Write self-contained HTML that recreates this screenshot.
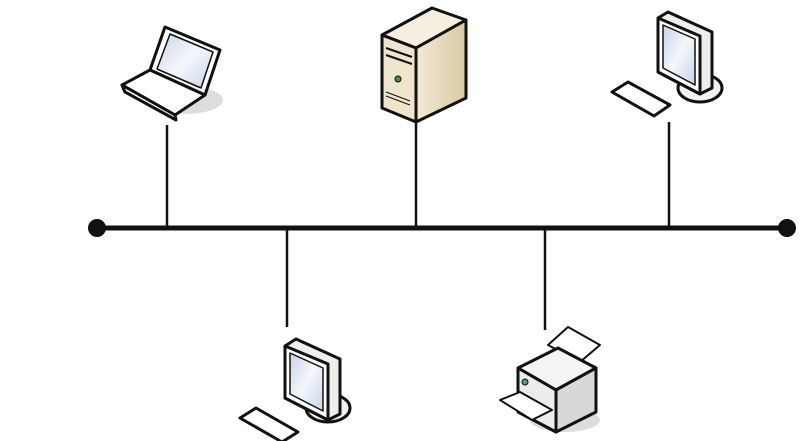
<!DOCTYPE html>
<html><head><meta charset="utf-8"><style>
html,body{margin:0;padding:0;background:#fff;width:800px;height:441px;overflow:hidden}
</style></head><body>
<svg width="800" height="441" viewBox="0 0 800 441" xmlns="http://www.w3.org/2000/svg">
<defs>
<linearGradient id="scr" x1="0" y1="0" x2="1" y2="1"><stop offset="0" stop-color="#c8d4ea"/><stop offset="0.5" stop-color="#f4f6fb"/><stop offset="1" stop-color="#c8d4ea"/></linearGradient>
<linearGradient id="beige" x1="0" y1="0" x2="1" y2="0"><stop offset="0" stop-color="#f3ead6"/><stop offset="1" stop-color="#d9c9a4"/></linearGradient>
</defs>
<g stroke="#111" stroke-width="2.5">
<line x1="167" y1="125" x2="167" y2="228"/>
<line x1="416" y1="122" x2="416" y2="228"/>
<line x1="669" y1="122" x2="669" y2="228"/>
<line x1="287" y1="228" x2="287" y2="327"/>
<line x1="545" y1="228" x2="545" y2="330"/>
</g>
<line x1="97" y1="228" x2="787" y2="228" stroke="#111" stroke-width="5"/>
<circle cx="97" cy="228" r="9" fill="#111"/>
<circle cx="787" cy="228" r="9" fill="#111"/>

<!-- laptop -->
<g stroke="#111" stroke-width="3" stroke-linejoin="round">
<ellipse cx="185" cy="100" rx="38" ry="14" fill="#ddd" stroke="none"/>
<polygon points="165,27 220,50 205,95 150,70" fill="#fff"/>
<polygon points="170,34 213,52 201,88 157,69" fill="url(#scr)" stroke-width="1.5"/>
<polygon points="150,70 205,95 175,115 122,85" fill="#fff"/>
<line x1="122" y1="85" x2="125" y2="92" /><polygon points="122,85 175,115 176,120 125,92" fill="#fff"/>
</g>
<!-- server -->
<g stroke="#111" stroke-width="3" stroke-linejoin="round">
<polygon points="382,35 432,8 466,20 416,48" fill="#f6efdf"/>
<polygon points="416,48 466,20 466,98 416,122" fill="url(#beige)"/>
<polygon points="382,35 416,48 416,122 382,108" fill="#efe5cc"/>
<line x1="386" y1="48" x2="412" y2="57" stroke-width="2"/>
<line x1="386" y1="55" x2="412" y2="64" stroke-width="2"/>
<circle cx="398" cy="79" r="3" fill="#4a8a6a" stroke-width="1"/>
<line x1="386" y1="92" x2="410" y2="101" stroke-width="1"/>
<line x1="386" y1="96" x2="410" y2="105" stroke-width="1"/>
</g>
<!-- monitor top right -->
<g stroke="#111" stroke-width="3" stroke-linejoin="round">
<ellipse cx="700" cy="88" rx="22" ry="14" fill="#f2f2f2"/>
<polygon points="658,18 668,12 712,32 712,88 700,94 658,72" fill="#eee"/>
<polygon points="658,18 700,36 700,94 658,72" fill="#fff"/>
<polygon points="663,25 695,39 695,85 663,68" fill="url(#scr)" stroke-width="1.5"/>
<polygon points="612,92 628,82 670,105 654,116" fill="#fff"/>
</g>
<!-- monitor bottom -->
<g stroke="#111" stroke-width="3" stroke-linejoin="round">
<ellipse cx="328" cy="408" rx="22" ry="14" fill="#f2f2f2"/>
<polygon points="285,346 296,339 340,359 340,414 328,420 285,398" fill="#eee"/>
<polygon points="285,346 328,364 328,420 285,398" fill="#fff"/>
<polygon points="290,353 323,368 323,411 290,394" fill="url(#scr)" stroke-width="1.5"/>
<polygon points="240,418 256,408 298,432 282,442" fill="#fff"/>
</g>
<!-- printer -->
<g stroke="#111" stroke-width="3" stroke-linejoin="round">
<ellipse cx="565" cy="420" rx="35" ry="12" fill="#ddd" stroke="none"/>
<polygon points="548,345 568,327 600,345 580,362" fill="#fff" stroke-width="2"/>
<polygon points="518,368 558,348 596,368 556,390" fill="#f4f4f4"/>
<polygon points="556,390 596,368 596,412 556,432" fill="#d8d8d8"/>
<polygon points="518,368 556,390 556,432 518,412" fill="#ececec"/>
<polygon points="500,400 520,392 552,410 532,420" fill="#fff" stroke-width="2"/>
<circle cx="525" cy="382" r="3" fill="#5a9a80" stroke-width="1"/>
</g>
<text x="570" y="441" font-family="Liberation Sans, sans-serif" font-size="9" fill="#aaa">                                     </text>
</svg>
</body></html>
